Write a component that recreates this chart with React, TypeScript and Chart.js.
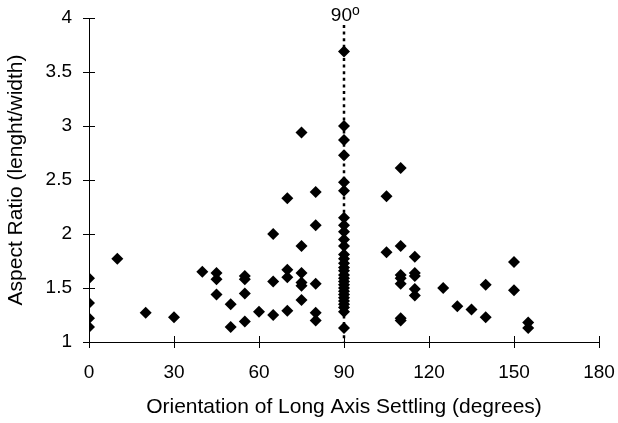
import React, { useEffect, useRef } from "react";
import { Chart, registerables } from "chart.js";

Chart.register(...registerables);

// ---- data ----
const xTickValues = [0, 30, 60, 90, 120, 150, 180];
const yTickValues = [1, 1.5, 2, 2.5, 3, 3.5, 4];

const orientationDeg = [
  0, 0, 0, 0,
  10, 20, 30, 40,
  45, 45, 45,
  50, 50,
  55, 55, 55, 55,
  60,
  65, 65, 65,
  70, 70, 70, 70,
  75, 75, 75, 75, 75, 75,
  80, 80, 80, 80, 80,
  105, 105,
  110, 110, 110, 110, 110, 110, 110,
  115, 115, 115, 115, 115,
  125, 130, 135,
  140, 140,
  150, 150,
  155, 155,
];
const aspectRatio = [
  1.59, 1.36, 1.22, 1.14,
  1.77, 1.27, 1.23, 1.65,
  1.64, 1.58, 1.44,
  1.35, 1.14,
  1.61, 1.58, 1.45, 1.19,
  1.28,
  2.0, 1.56, 1.25,
  2.33, 1.67, 1.6, 1.29,
  2.94, 1.89, 1.64, 1.55, 1.52, 1.39,
  2.39, 2.08, 1.54, 1.27, 1.2,
  2.35, 1.83,
  2.61, 1.89, 1.62, 1.59, 1.54, 1.22, 1.2,
  1.79, 1.64, 1.61, 1.49, 1.43,
  1.5, 1.33, 1.3,
  1.53, 1.23,
  1.74, 1.48,
  1.18, 1.13,
];

const referenceAngle = 90;
const referenceColumnAspect = [
  3.69, 3.0, 2.87, 2.73, 2.48, 2.4, 2.15, 2.08, 2.02, 1.95, 1.89, 1.81, 1.77,
  1.73, 1.69, 1.66, 1.62, 1.59, 1.56, 1.53, 1.5, 1.47, 1.44, 1.41, 1.38, 1.35,
  1.32, 1.28, 1.13,
];

const xTitle = "Orientation of Long Axis Settling (degrees)";
const yTitle = "Aspect Ratio (lenght/width)";
const referenceLabel = "90";
const referenceSup = "o";

const FONT = "'Liberation Sans', Arial, Helvetica, sans-serif";

export default function App() {
  const ref = useRef<HTMLCanvasElement>(null);

  useEffect(() => {
    document.body.style.margin = "0";
    const canvas = ref.current;
    if (!canvas) return;

    const points = orientationDeg
      .map((x, i) => ({ x, y: aspectRatio[i] }))
      .concat(referenceColumnAspect.map((y) => ({ x: referenceAngle, y })));

    const decor = {
      id: "decor",
      beforeDatasetsDraw(chart: any) {
        const c = chart.ctx;
        const xs = chart.scales.x;
        const area = chart.chartArea;
        const px = Math.round(xs.getPixelForValue(referenceAngle));
        c.save();
        c.strokeStyle = "#000";
        c.lineWidth = 2.5;
        c.setLineDash([3, 3.6]);
        c.beginPath();
        c.moveTo(px, 25);
        c.lineTo(px, area.bottom);
        c.stroke();
        c.setLineDash([]);
        c.fillStyle = "#000";
        c.font = `19px ${FONT}`;
        c.textAlign = "right";
        c.textBaseline = "alphabetic";
        c.fillText(referenceLabel, px + 8, 21);
        c.font = `14px ${FONT}`;
        c.textAlign = "left";
        c.fillText(referenceSup, px + 8, 15);
        c.restore();
      },
      afterDraw(chart: any) {
        const c = chart.ctx;
        const xs = chart.scales.x;
        const ys = chart.scales.y;
        const area = chart.chartArea;
        c.save();
        c.strokeStyle = "#000";
        c.lineWidth = 1;
        c.beginPath();
        xTickValues.forEach((v) => {
          const p = Math.round(xs.getPixelForValue(v)) + 0.5;
          c.moveTo(p, area.bottom - 6);
          c.lineTo(p, area.bottom + 6);
        });
        yTickValues.forEach((v) => {
          const p = Math.round(ys.getPixelForValue(v)) + 0.5;
          c.moveTo(area.left - 6, p);
          c.lineTo(area.left + 6, p);
        });
        c.stroke();
        c.restore();
      },
    };

    const chart = new Chart(canvas, {
      type: "scatter",
      data: {
        datasets: [
          {
            data: points,
            pointStyle: "rectRot",
            pointRadius: 6,
            pointHoverRadius: 6,
            backgroundColor: "#000",
            borderColor: "#000",
            borderWidth: 0,
          },
        ],
      },
      options: {
        responsive: false,
        animation: false,
        events: [],
        layout: { padding: { top: 18, right: 19, bottom: 0, left: 0 } },
        plugins: {
          legend: { display: false },
          tooltip: { enabled: false },
        },
        scales: {
          x: {
            type: "linear",
            min: 0,
            max: 180,
            afterBuildTicks: (s: any) => {
              s.ticks = xTickValues.map((value) => ({ value }));
            },
            grid: { display: false, drawTicks: false },
            border: { display: true, color: "#000", width: 1 },
            ticks: {
              color: "#000",
              font: { family: FONT, size: 19 },
              padding: 19,
              maxRotation: 0,
              callback: (v: any) => String(Number(v)),
            },
            title: {
              display: true,
              text: xTitle,
              color: "#000",
              font: { family: FONT, size: 21 },
              padding: { top: 0, bottom: 3 },
            },
            afterFit: (s: any) => {
              s.height = 81;
              s.paddingLeft = 0;
              s.paddingRight = 0;
            },
          },
          y: {
            type: "linear",
            min: 1,
            max: 4,
            afterBuildTicks: (s: any) => {
              s.ticks = yTickValues.map((value) => ({ value }));
            },
            grid: { display: false, drawTicks: false },
            border: { display: true, color: "#000", width: 1 },
            ticks: {
              color: "#000",
              font: { family: FONT, size: 19 },
              padding: 17,
              callback: (v: any) => String(Number(v)),
            },
            title: {
              display: true,
              text: yTitle,
              color: "#000",
              font: { family: FONT, size: 21 },
              padding: { top: 4, bottom: 0 },
            },
            afterFit: (s: any) => {
              s.width = 89;
              s.paddingTop = 0;
              s.paddingBottom = 0;
            },
          },
        },
      },
      plugins: [decor],
    } as any);

    return () => chart.destroy();
  }, []);

  return (
    <canvas
      ref={ref}
      width={618}
      height={423}
      style={{ display: "block", width: 618, height: 423 }}
    />
  );
}
